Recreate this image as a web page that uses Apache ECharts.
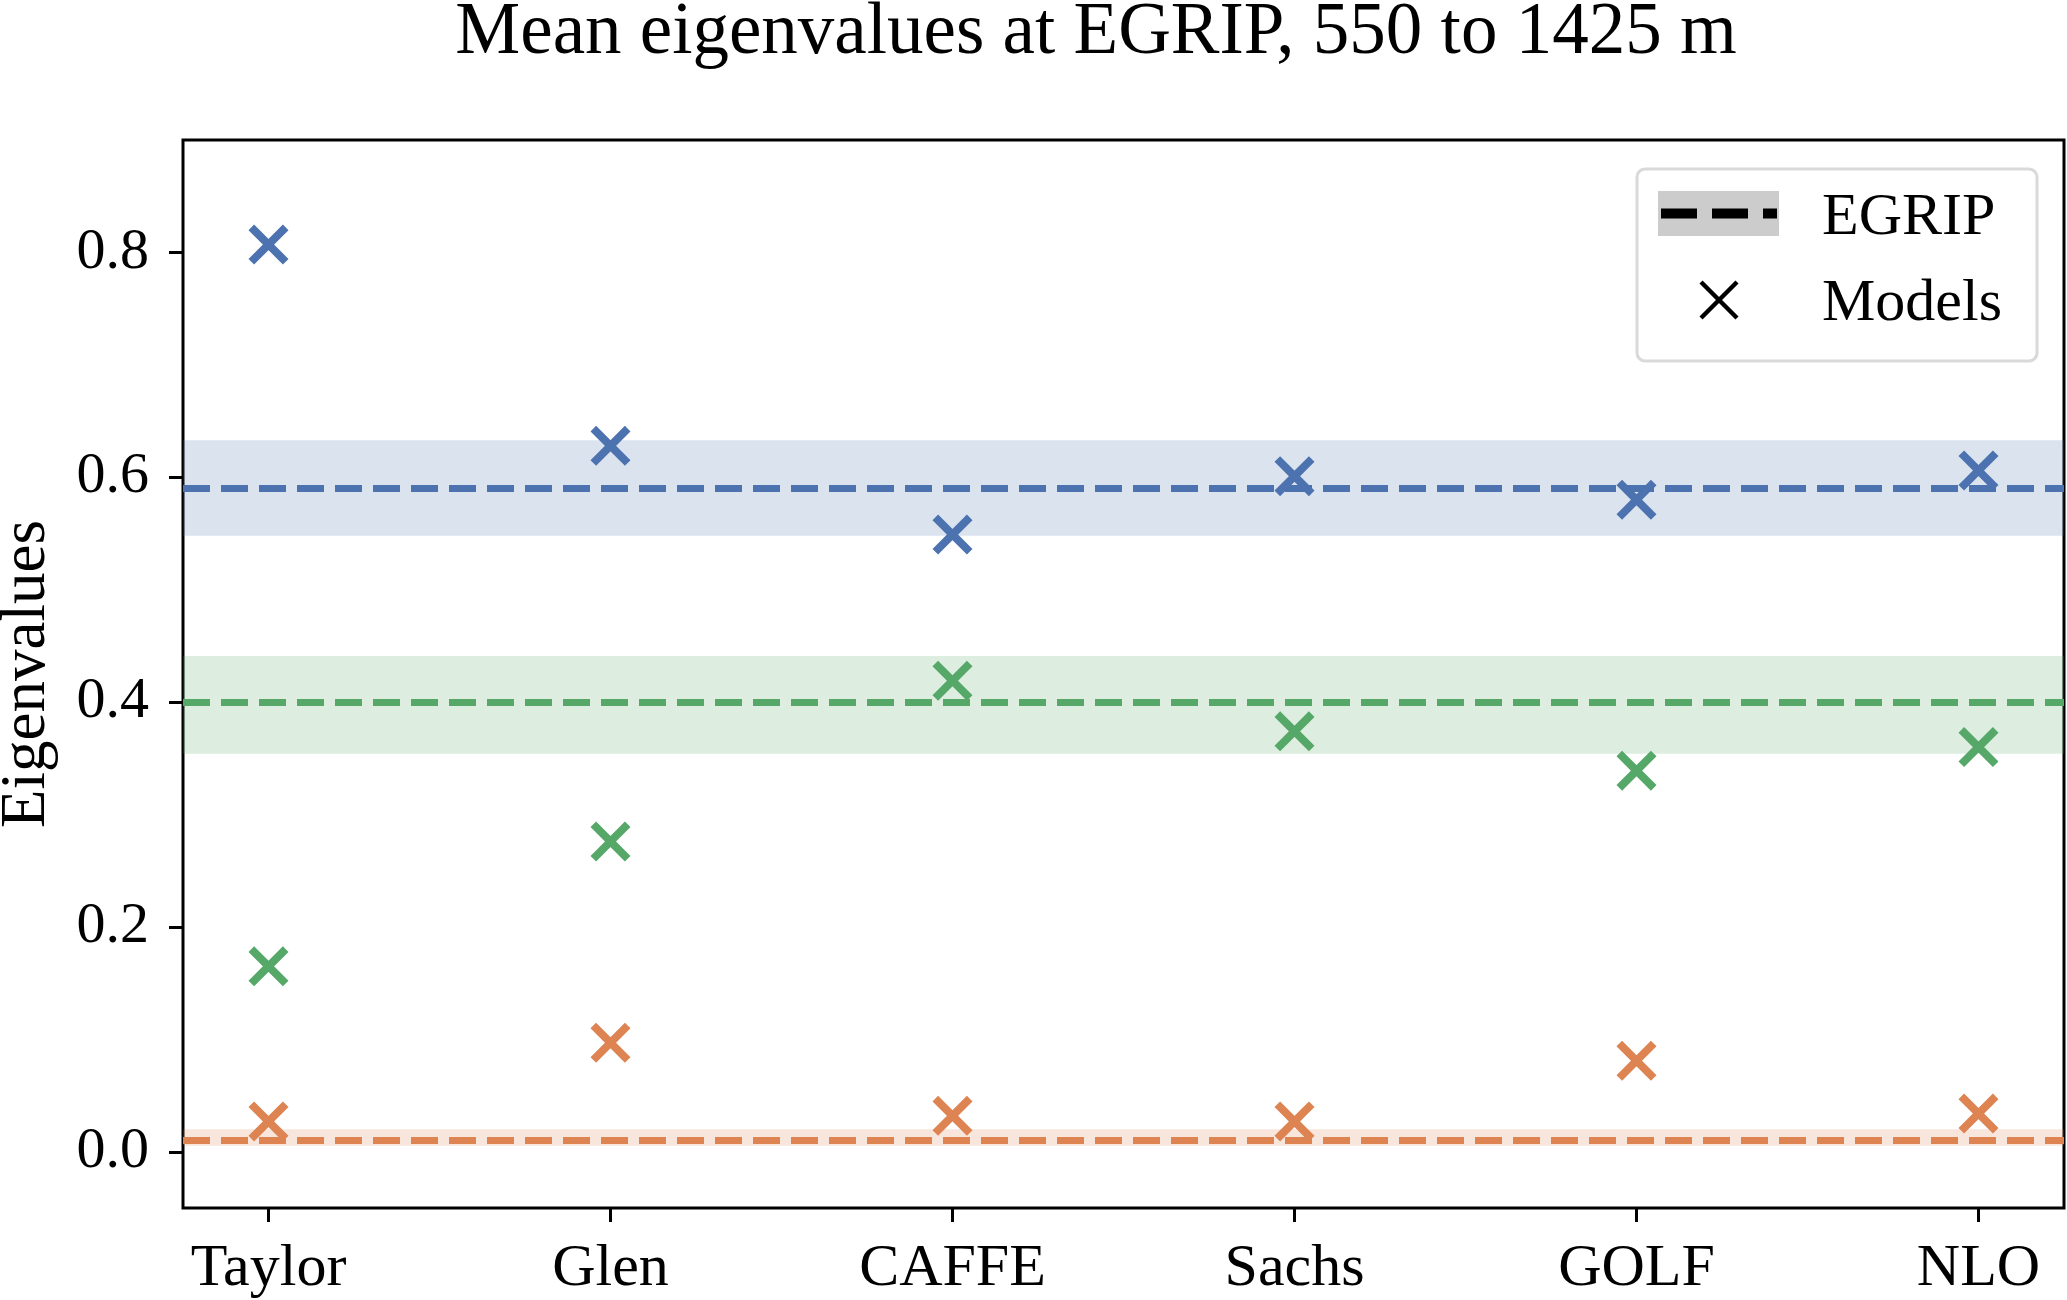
<!DOCTYPE html>
<html>
<head>
<meta charset="utf-8">
<script src="https://cdn.jsdelivr.net/npm/echarts@6/dist/echarts.min.js"></script>
<style>
html,body{margin:0;padding:0;background:#fff;}
#chart{width:2067px;height:1300px;}
</style>
</head>
<body>
<div id="chart"></div>
<script>
// ---- data ----
const categories = ['Taylor', 'Glen', 'CAFFE', 'Sachs', 'GOLF', 'NLO'];
const modelLargest  = [0.807, 0.628, 0.549, 0.601, 0.580, 0.606];
const modelMiddle   = [0.165, 0.276, 0.419, 0.374, 0.339, 0.360];
const modelSmallest = [0.027, 0.097, 0.032, 0.027, 0.081, 0.034];
const egripMean = [0.590, 0.398, 0.0128];
const egripLow  = [0.548, 0.354, 0.0053];
const egripHigh = [0.633, 0.441, 0.0200];
const yTicks = [0, 0.2, 0.4, 0.6, 0.8];
const xTicks = categories.map((c, i) => i);
const colors = ['#4C72B0', '#55A868', '#DD8452'];
const bandColors = ['rgba(76,114,176,0.2)', 'rgba(85,168,104,0.2)', 'rgba(221,132,82,0.2)'];

const FONT = 'Liberation Serif';
const xPath = 'path://M0,14L14,0L100,86L86,100Z M86,0L100,14L14,100L0,86Z';

const chart = echarts.init(document.getElementById('chart'), null, {renderer: 'canvas'});

const series = [];
// EGRIP bands and dashed lines
egripMean.forEach((m, k) => {
  series.push({
    type: 'line',
    name: 'EGRIP' + k,
    data: [],
    silent: true,
    z: 1,
    markArea: {
      silent: true,
      itemStyle: {color: bandColors[k]},
      data: [[{yAxis: egripLow[k]}, {yAxis: egripHigh[k]}]]
    },
    markLine: {
      silent: true,
      symbol: 'none',
      animation: false,
      label: {show: false},
      lineStyle: {color: colors[k], width: 7, type: [27, 11], cap: 'butt'},
      emphasis: {disabled: true},
      data: [{yAxis: m}]
    }
  });
});
// model markers
[modelLargest, modelMiddle, modelSmallest].forEach((arr, k) => {
  series.push({
    type: 'scatter',
    name: 'Models' + k,
    symbol: xPath,
    symbolSize: 40,
    z: 5,
    itemStyle: {color: colors[k], opacity: 1},
    data: arr.map((v, i) => [i, v])
  });
});

const legendGraphics = [
  {type: 'rect', shape: {x: 1637, y: 169, width: 400, height: 192, r: 8},
   style: {fill: 'rgba(255,255,255,0.8)', stroke: '#d9d9d9', lineWidth: 3}, z: 100},
  {type: 'rect', shape: {x: 1658, y: 191, width: 121, height: 45},
   style: {fill: '#cccccc'}, z: 101},
  {type: 'line', shape: {x1: 1661, y1: 213.5, x2: 1777, y2: 213.5},
   style: {stroke: '#000', lineWidth: 10, lineDash: [36, 15], lineCap: 'butt'}, z: 102},
  {type: 'line', shape: {x1: 1701, y1: 282, x2: 1737, y2: 318},
   style: {stroke: '#000', lineWidth: 4.5}, z: 102},
  {type: 'line', shape: {x1: 1737, y1: 282, x2: 1701, y2: 318},
   style: {stroke: '#000', lineWidth: 4.5}, z: 102},
  {type: 'text', x: 1822, y: 218.5, z: 102,
   style: {text: 'EGRIP', font: '60px "' + FONT + '"', fill: '#000', textAlign: 'left', textVerticalAlign: 'middle'}},
  {type: 'text', x: 1822, y: 304.5, z: 102,
   style: {text: 'Models', font: '60px "' + FONT + '"', fill: '#000', textAlign: 'left', textVerticalAlign: 'middle'}}
];

const option = {
  animation: false,
  backgroundColor: '#fff',
  title: {
    text: 'Mean eigenvalues at EGRIP, 550 to 1425 m',
    left: 1091,
    textAlign: 'center',
    top: -8,
    textStyle: {fontFamily: FONT, fontSize: 73, fontWeight: 'normal', color: '#000'}
  },
  grid: {
    left: 183, right: 3, top: 140, bottom: 92,
    outerBoundsMode: 'none',
    containLabel: false,
    show: true, borderColor: '#000', borderWidth: 3, backgroundColor: 'transparent'
  },
  xAxis: {
    type: 'value',
    min: -0.25,
    max: 5.25,
    axisLine: {show: false, onZero: false},
    splitLine: {show: false},
    axisTick: {show: true, length: 14, customValues: xTicks, lineStyle: {color: '#000', width: 3}},
    axisLabel: {
      customValues: xTicks,
      formatter: v => categories[Math.round(v)] || '',
      fontFamily: FONT, fontSize: 60, color: '#000', margin: 31
    }
  },
  yAxis: {
    type: 'value',
    min: -0.05,
    max: 0.9,
    name: 'Eigenvalues',
    nameLocation: 'middle',
    nameGap: 124,
    nameTextStyle: {fontFamily: FONT, fontSize: 63, color: '#000'},
    axisLine: {show: false, onZero: false},
    splitLine: {show: false},
    axisTick: {show: true, length: 14, customValues: yTicks, lineStyle: {color: '#000', width: 3}},
    axisLabel: {
      customValues: yTicks,
      formatter: v => v.toFixed(1),
      fontFamily: FONT, fontSize: 58, color: '#000', margin: 34
    }
  },
  series: series,
  graphic: legendGraphics
};
chart.setOption(option);
</script>
</body>
</html>
